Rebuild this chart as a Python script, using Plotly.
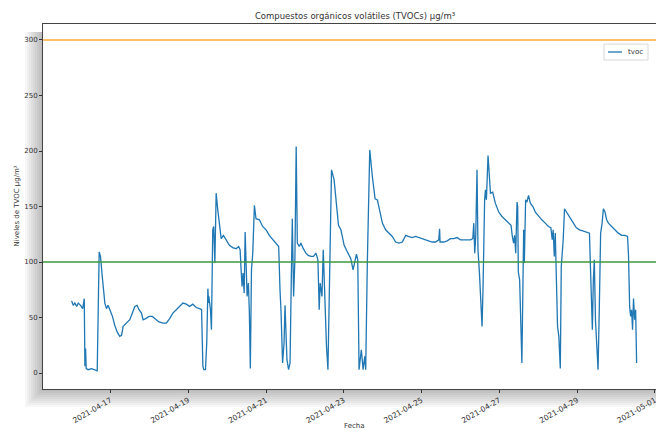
import pandas as pd
import plotly.graph_objects as go

# TVOC readings: hours elapsed since 2021-04-16 00:00 and level in µg/m³
hours = [
    0.0, 1.0, 2.0, 3.1, 4.1, 5.5, 6.8, 7.8, 8.2, 8.6, 9.0, 10.2, 12.3, 14.3, 15.8,
    17.0, 17.8, 19.1, 20.5, 21.5, 22.5, 23.6, 25.2, 26.6, 28.1, 29.7, 30.8, 31.8,
    33.8, 35.9, 37.5, 39.0, 40.4, 41.6, 43.1, 44.1, 45.7, 47.8, 49.8, 51.9, 53.9,
    56.4, 58.5, 60.5, 62.5, 64.6, 66.6, 68.7, 70.8, 72.8, 74.8, 76.9, 79.0, 80.2,
    81.0, 81.6, 82.6, 83.4, 84.1, 84.5, 84.7, 85.7, 86.3, 87.1, 87.7, 88.4, 89.2,
    90.2, 91.3, 92.3, 93.7, 95.4, 97.4, 99.4, 101.5, 103.1, 104.0, 104.6, 105.2,
    105.8, 106.5, 107.1, 107.7, 108.3, 109.1, 109.7, 110.3, 111.0, 111.8, 112.8,
    113.8, 115.9, 117.9, 120.0, 122.0, 124.1, 126.2, 127.8, 128.6, 129.2, 130.2,
    131.1, 131.7, 132.3, 132.9, 133.9, 134.8, 135.6, 136.2, 137.0, 137.8, 138.6,
    139.3, 140.5, 141.5, 143.0, 144.6, 146.0, 147.7, 149.3, 150.8, 152.0, 152.8,
    153.4, 154.5, 155.3, 155.9, 156.5, 157.3, 158.2, 159.0, 160.4, 162.0, 163.4,
    164.7, 166.2, 168.2, 170.2, 172.3, 173.7, 175.0, 175.8, 176.6, 177.4, 178.8,
    179.9, 180.9, 181.5, 182.5, 184.0, 185.6, 187.3, 188.7, 190.2, 191.8, 193.8,
    195.9, 197.9, 200.0, 202.0, 204.1, 206.2, 207.8, 210.2, 212.3, 214.3, 216.4,
    218.5, 220.5, 222.5, 224.6, 226.6, 227.1, 227.4, 229.7, 231.8, 233.8, 235.9,
    237.9, 240.0, 242.0, 244.1, 246.2, 247.6, 248.2, 248.8, 249.4, 250.2, 250.8,
    251.7, 252.5, 253.3, 253.9, 254.5, 254.9, 255.4, 256.0, 257.0, 258.5, 259.9,
    261.5, 263.6, 265.6, 267.7, 269.7, 271.2, 272.0, 272.8, 273.4, 274.1, 274.9,
    275.3, 275.7, 276.5, 277.9, 278.5, 279.0, 279.4, 280.2, 281.0, 282.0, 283.1,
    284.7, 286.2, 288.2, 290.2, 292.3, 294.3, 295.8, 296.6, 297.2, 297.9, 298.5,
    299.1, 299.9, 300.7, 301.6, 302.2, 302.8, 303.4, 304.2, 305.6, 307.3, 309.3,
    311.4, 313.4, 315.5, 317.5, 319.6, 320.2, 320.8, 321.4, 322.0, 322.6, 323.3,
    324.1, 324.9, 325.7, 326.5, 327.4, 328.2, 329.2, 330.2, 331.3, 333.3, 335.4,
    337.4, 339.5, 341.5, 343.1, 343.7, 344.4, 345.0, 345.6, 346.2, 346.8, 347.5,
    348.1, 348.7,
]
tvoc = [
    65, 61, 63, 60, 63, 61, 58, 67, 6, 22, 4, 3, 4, 3, 2,
    109, 105, 84, 63, 58, 61, 57, 51, 43, 37, 33, 34, 42,
    45, 48, 54, 60, 61, 57, 54, 48, 49, 51, 51, 48, 46,
    45, 45, 49, 54, 57, 60, 63, 62, 60, 62, 59, 58, 57,
    6, 3, 3, 27, 76, 63, 69, 57, 39, 129, 132, 99, 162,
    147, 135, 121, 124, 120, 115, 113, 112, 114, 111, 93, 78,
    90, 72, 127, 87, 69, 81, 54, 4, 93, 108, 151,
    139, 138, 132, 129, 124, 120, 117, 114, 75, 57, 9,
    27, 61, 39, 12, 3, 9, 87, 139, 69, 102, 204,
    117, 114, 117, 112, 108, 106, 105, 105, 108, 102, 57,
    81, 69, 111, 78, 51, 24, 3, 69, 183, 174, 150,
    133, 129, 115, 109, 103, 93, 103, 107, 102, 3, 21,
    3, 15, 3, 99, 201, 177, 157, 156, 147, 135, 129,
    126, 123, 118, 117, 118, 124, 123, 122, 123, 122, 121,
    120, 119, 118, 118, 120, 130, 118, 118, 119, 121, 121,
    122, 120, 120, 120, 120, 121, 135, 108, 123, 183, 111,
    90, 69, 42, 75, 135, 156, 165, 156, 196, 162, 163,
    153, 145, 141, 138, 135, 133, 123, 117, 124, 108, 154,
    150, 91, 84, 9, 90, 129, 99, 156, 154, 160, 153,
    150, 145, 141, 138, 135, 132, 131, 120, 129, 105, 126,
    96, 42, 33, 4, 96, 108, 120, 148, 145, 141, 136,
    131, 129, 128, 127, 126, 96, 60, 39, 84, 102, 48,
    30, 3, 60, 126, 135, 148, 145, 138, 135, 132, 129,
    126, 124, 124, 123, 106, 60, 51, 57, 39, 67, 48,
    57, 9,
]

# Reference thresholds (µg/m³)
upper_limit = 300
lower_limit = 100

series_name = "tvoc"
series_color = "#1f77b4"

start = pd.Timestamp("2021-04-16 00:00")
fecha = start + pd.to_timedelta(hours, unit="h")

tick_dates = ["2021-04-17", "2021-04-19", "2021-04-21", "2021-04-23",
              "2021-04-25", "2021-04-27", "2021-04-29", "2021-05-01"]

W, H = 656, 429
L, T, B = 43, 24, 40          # margins in px; plot area runs to the right edge
PW, PH = W - L, H - T - B

x_range = ["2021-04-15 06:20", "2021-05-01 00:40"]
y_range = [-14.4, 314.4]

font = "DejaVu Sans"
ink = "#333333"


def px(xp):
    """Horizontal pixel -> paper fraction."""
    return (xp - L) / PW


def py(yp):
    """Vertical pixel (from top) -> paper fraction."""
    return (T + PH - yp) / PH


fig = go.Figure()
fig.add_trace(go.Scatter(
    x=fecha, y=tvoc, mode="lines", name=series_name, showlegend=False,
    line=dict(color=series_color, width=1.3),
))

shapes = []
# soft drop shadow along the left and bottom of the axes box
for i in range(1, 10):
    d = 2 * i
    shade = "rgba(0,0,0,0.03)"
    shapes.append(dict(type="rect", xref="paper", yref="paper", layer="below",
                       x0=-d / PW, x1=0, y0=-d / PH, y1=1 - 8 / PH,
                       line=dict(width=0), fillcolor=shade))
    shapes.append(dict(type="rect", xref="paper", yref="paper", layer="below",
                       x0=0, x1=1, y0=-d / PH, y1=0,
                       line=dict(width=0), fillcolor=shade))

# threshold lines
shapes.append(dict(type="line", xref="paper", yref="y", x0=0, x1=1,
                   y0=upper_limit, y1=upper_limit, layer="above",
                   line=dict(color="#f9ad3c", width=1.4)))
shapes.append(dict(type="line", xref="paper", yref="y", x0=0, x1=1,
                   y0=lower_limit, y1=lower_limit, layer="above",
                   line=dict(color="#3c9a3c", width=1.4)))

# compact legend box in the upper right corner
shapes.append(dict(type="rect", xref="paper", yref="paper", layer="above",
                   x0=px(604), x1=px(648), y0=py(60), y1=py(44),
                   fillcolor="white", line=dict(color="#d8d8d8", width=1)))
shapes.append(dict(type="line", xref="paper", yref="paper", layer="above",
                   x0=px(608), x1=px(622), y0=py(52), y1=py(52),
                   line=dict(color=series_color, width=1.3)))

annotations = [
    dict(text="Niveles de TVOC µg/m³", xref="paper", yref="paper",
         x=px(16), y=0.5, xanchor="center", yanchor="middle",
         textangle=-90, showarrow=False, font=dict(family=font, size=7, color=ink)),
    dict(text="Fecha", xref="paper", yref="paper",
         x=px(354), y=py(426), xanchor="center", yanchor="middle",
         showarrow=False, font=dict(family=font, size=7, color=ink)),
    dict(text=series_name, xref="paper", yref="paper",
         x=px(626), y=py(52), xanchor="left", yanchor="middle",
         showarrow=False, font=dict(family=font, size=7, color=ink)),
]

fig.update_layout(
    width=W, height=H,
    margin=dict(l=L, r=0, t=T, b=B, autoexpand=False),
    paper_bgcolor="white", plot_bgcolor="white",
    title=dict(text="Compuestos orgánicos volátiles (TVOCs) µg/m³",
               x=355 / W, xanchor="center", y=1 - 16 / H, yanchor="middle",
               xref="container", yref="container",
               font=dict(family=font, size=8.5, color=ink)),
    font=dict(family=font, size=7, color=ink),
    showlegend=False,
    shapes=shapes,
    annotations=annotations,
)

fig.update_xaxes(
    range=x_range, showgrid=False, zeroline=False,
    tickmode="array", tickvals=tick_dates, ticktext=tick_dates,
    tickangle=-30, ticks="outside", ticklen=3, tickcolor=ink,
    tickfont=dict(family=font, size=7.5, color=ink),
    ticklabeloverflow="allow",
    showline=True, linecolor="#444444", linewidth=1, mirror=True,
    automargin=False,
)
fig.update_yaxes(
    range=y_range, showgrid=False, zeroline=False,
    tickmode="array", tickvals=[0, 50, 100, 150, 200, 250, 300],
    ticks="outside", ticklen=3, tickcolor=ink,
    tickfont=dict(family=font, size=7, color=ink),
    showline=True, linecolor="#444444", linewidth=1, mirror=False,
    automargin=False,
)

fig.write_html("out.html")
